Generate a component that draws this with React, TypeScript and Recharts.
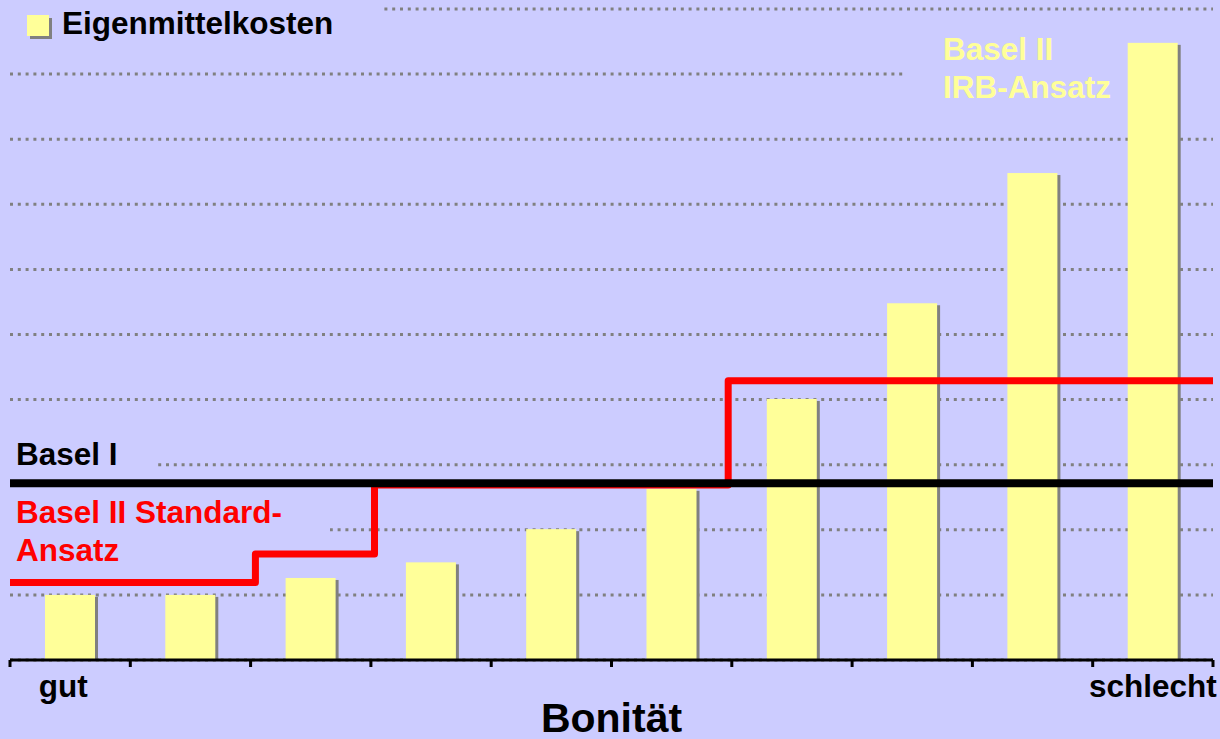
import React from 'react';
import {
  Bar,
  CartesianGrid,
  ComposedChart,
  Legend,
  Line,
  ReferenceArea,
  ReferenceLine,
  XAxis,
  YAxis,
} from 'recharts';

// Bonität classes, gut -> schlecht
const categories = ['1', '2', '3', '4', '5', '6', '7', '8', '9', '10'];
const tickLabels = ['gut', '', '', '', '', '', '', '', '', 'schlecht'];
// Basel II IRB-Ansatz capital cost per class
const costs = [1.0, 1.0, 1.26, 1.5, 2.01, 2.63, 4.01, 5.48, 7.48, 9.48];
// Basel II Standard-Ansatz (step line), x in class units 0..10
const standardX = [0, 2.04, 3.03, 5.97, 10];
const standardY = [1.19, 1.63, 2.69, 4.29, 4.29];
// Basel I flat level
const baselOne = 2.716;
const gridTicks = [0, 1, 2, 3, 4, 5, 6, 7, 8, 9, 10];
const classBounds = [0, 1, 2, 3, 4, 5, 6, 7, 8, 9, 10];

// background patches behind the text boxes (they hide parts of the grid)
const textBoxes = [
  { x1: 0, x2: 3.08, y1: 9.6, y2: 10.15 },
  { x1: 7.44, x2: 10, y1: 8.6, y2: 9.4 },
  { x1: 0, x2: 1.2, y1: 2.85, y2: 3.3 },
  { x1: 0, x2: 2.66, y1: 1.8, y2: 2.2 },
];

const BG = '#CCCCFF';
const YELLOW = '#FFFF99';
const SHADOW = '#808080';
const FONT = "'Liberation Sans', Arial, sans-serif";

const data = categories.map((name, i) => ({ name, cost: costs[i] }));
const stepData = standardX.map((x, i) => ({ x, v: standardY[i] }));

const ShadowBar = (props: any) => {
  const { x, y, width, height } = props;
  return (
    <g>
      <rect x={x + 3} y={y + 2} width={width} height={height} fill={SHADOW} />
      <rect x={x} y={y} width={width} height={height} fill={YELLOW} />
    </g>
  );
};

const LegendBox = (props: any) => {
  const label = props.payload && props.payload[0] ? props.payload[0].value : '';
  return (
    <svg width={400} height={44}>
      <rect x={30} y={18} width={22} height={21} fill={SHADOW} />
      <rect x={27} y={15} width={22} height={21} fill={YELLOW} />
      <text x={62} y={34} fontFamily={FONT} fontWeight="bold" fontSize={31.5} fill="#000">
        {label}
      </text>
    </svg>
  );
};

const ClassTick = (props: any) => {
  const { x, y, payload, index } = props;
  const label = tickLabels[index ?? payload.index] || '';
  // "gut" sits a little left of its class centre in the original
  const dx = index === 0 ? -7 : 0;
  return (
    <text
      x={x + dx}
      y={y}
      dy="0.71em"
      textAnchor="middle"
      fill="#000"
      fontSize={31.5}
      fontWeight="bold"
      fontFamily={FONT}
    >
      {label}
    </text>
  );
};

export default function App() {
  return (
    <div style={{ position: 'absolute', left: 0, top: 0, width: 1220, height: 739, background: BG }}>
      <ComposedChart width={1220} height={739} data={data} margin={{ top: 9, right: 7, left: 10, bottom: 0 }}>
        <CartesianGrid
          xAxisId="bounds"
          vertical={false}
          stroke={SHADOW}
          strokeWidth={3}
          strokeDasharray="3 4.8"
        />
        {textBoxes.map((b, i) => (
          <ReferenceArea
            key={i}
            xAxisId="bounds"
            x1={b.x1}
            x2={b.x2}
            y1={b.y1}
            y2={b.y2}
            fill={BG}
            fillOpacity={1}
            stroke="none"
            ifOverflow="visible"
          />
        ))}
        <Bar
          xAxisId="cat"
          dataKey="cost"
          name="Eigenmittelkosten"
          barSize={50}
          shape={ShadowBar}
          isAnimationActive={false}
        />
        <Line
          xAxisId="bounds"
          data={stepData}
          dataKey="v"
          type="stepAfter"
          stroke="#FF0000"
          strokeWidth={7}
          strokeLinejoin="round"
          dot={false}
          activeDot={false}
          legendType="none"
          isAnimationActive={false}
        />
        <ReferenceLine xAxisId="bounds" y={baselOne} stroke="#000" strokeWidth={8} />
        <XAxis
          xAxisId="cat"
          dataKey="name"
          height={78}
          axisLine={false}
          tickLine={false}
          tickSize={6}
          tickMargin={8}
          interval={0}
          tick={ClassTick}
          label={{
            value: 'Bonität',
            position: 'insideBottom',
            offset: 7,
            fill: '#000',
            fontSize: 41,
            fontWeight: 'bold',
            fontFamily: FONT,
          }}
        />
        <XAxis
          xAxisId="bounds"
          type="number"
          dataKey="x"
          domain={[0, 10]}
          ticks={classBounds}
          height={1}
          axisLine={{ stroke: '#000', strokeWidth: 3 }}
          tickLine={{ stroke: '#000', strokeWidth: 3 }}
          tickSize={7}
          tick={() => <g />}
          allowDataOverflow
        />
        <YAxis hide domain={[0, 10]} ticks={gridTicks} allowDataOverflow />
        <Legend
          layout="horizontal"
          verticalAlign="middle"
          align="center"
          wrapperStyle={{ top: 0, left: 0, width: 400, height: 44 }}
          content={LegendBox}
        />
      </ComposedChart>
      <svg
        width={1220}
        height={739}
        style={{ position: 'absolute', left: 0, top: 0, pointerEvents: 'none' }}
        fontFamily={FONT}
        fontWeight="bold"
        fontSize={31.5}
      >
        <text x={16} y={465} fill="#000">Basel I</text>
        <text x={16} y={523} fill="#FF0000">Basel II Standard-</text>
        <text x={16} y={561} fill="#FF0000">Ansatz</text>
        <text x={943} y={60} fill={YELLOW}>Basel II</text>
        <text x={943} y={98} fill={YELLOW}>IRB-Ansatz</text>
      </svg>
    </div>
  );
}
